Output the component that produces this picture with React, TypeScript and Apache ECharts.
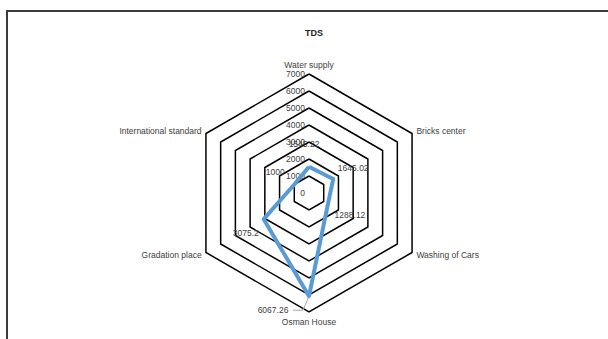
import React, { useEffect, useRef } from "react";
import * as echarts from "echarts";

// TDS readings per sampling site, listed clockwise from the top
const indicators = [
  "Water supply",
  "Bricks center",
  "Washing of Cars",
  "Osman House",
  "Gradation place",
  "International standard",
];
const tdsValues = [1545.22, 1645.02, 1288.12, 6067.26, 3075.2, 1000];
const axisMax = 7000;
const axisSplits = 7;

// label placement around each vertex (dx, dy)
const labelOffsets: [number, number][] = [
  [-5, -23],
  [20, -11],
  [22, 11],
  [-36, 14],
  [-18, 14],
  [-19, -13],
];

const FONT = "Liberation Sans";
const TEXT = "#404040";

// the radar lays axes out counter-clockwise, so feed it the sites in reverse
const radarOrder = [0, ...indicators.map((_, i) => i).slice(1).reverse()];
const radarValues = radarOrder.map((i) => tdsValues[i]);

export default function App() {
  const ref = useRef<HTMLDivElement>(null);

  useEffect(() => {
    if (!ref.current) return;
    const chart = echarts.init(ref.current, undefined, { renderer: "svg" });

    const labelSeries = indicators.map((_, i) => ({
      type: "radar" as const,
      symbol: "circle",
      symbolSize: 1,
      itemStyle: { color: "transparent" },
      lineStyle: { width: 0, opacity: 0 },
      z: 3,
      label: {
        show: true,
        position: "inside",
        offset: labelOffsets[i],
        color: TEXT,
        fontSize: 8.5,
        fontFamily: FONT,
        formatter: (p: any) => {
          if (p.dimensionIndex != null)
            return radarOrder[p.dimensionIndex] === i ? String(tdsValues[i]) : "";
          return p.value === tdsValues[i] ? String(tdsValues[i]) : "";
        },
      },
      data: [{ value: radarValues }],
    }));

    chart.setOption({
      animation: false,
      backgroundColor: "#ffffff",
      title: {
        text: "TDS",
        left: 309,
        top: 23,
        textAlign: "center",
        textStyle: { fontSize: 9, fontWeight: "bold", color: "#222", fontFamily: FONT },
      },
      radar: {
        center: [309, 193],
        radius: 119,
        shape: "polygon",
        splitNumber: axisSplits,
        startAngle: 90,
        nameGap: 5,
        axisName: { color: TEXT, fontSize: 8.5, fontFamily: FONT },
        axisLine: { show: false },
        axisTick: { show: false },
        splitArea: { show: false },
        splitLine: { lineStyle: { color: "#000", width: 1.5 } },
        axisLabel: {
          show: false,
          color: TEXT,
          fontSize: 8.5,
          fontFamily: FONT,
          align: "right",
          margin: -3,
          padding: [0, 7, 0, 0],
          formatter: (v: number) => String(v),
        },
        indicator: radarOrder.map((idx, k) =>
          k === 0
            ? { name: indicators[idx], min: 0, max: axisMax, axisLabel: { show: true, showMinLabel: true } }
            : { name: indicators[idx], min: 0, max: axisMax }
        ),
      },
      series: [
        {
          type: "radar",
          symbol: "none",
          z: 2,
          lineStyle: { color: "#5B9BD5", width: 4 },
          data: [{ value: radarValues, name: "TDS" }],
        },
        ...labelSeries,
      ],
    });

    // leader line for the Osman House label, anchored at its vertex
    const osman = indicators.indexOf("Osman House");
    const coord = (chart as any).getModel().getComponent("radar").coordinateSystem;
    const p = coord.dataToPoint(tdsValues[osman], radarOrder.indexOf(osman));
    const lx = p[0] - 6;
    const ly = p[1] + labelOffsets[osman][1];
    chart.setOption({
      graphic: [
        {
          type: "rect",
          shape: { x: 7, y: 11, width: 800, height: 500 },
          style: { fill: "none", stroke: "#3a3a3a", lineWidth: 2 },
          silent: true,
        },
        {
          type: "polyline",
          shape: { points: [[p[0], p[1]], [lx, ly], [lx - 10, ly]] },
          style: { stroke: "#a6a6a6", lineWidth: 1, fill: "none" },
          silent: true,
          z: 1,
        },
      ],
    });

    return () => chart.dispose();
  }, []);

  return (
    <div
      ref={ref}
      style={{ position: "absolute", left: 0, top: 0, width: 608, height: 339 }}
    />
  );
}
